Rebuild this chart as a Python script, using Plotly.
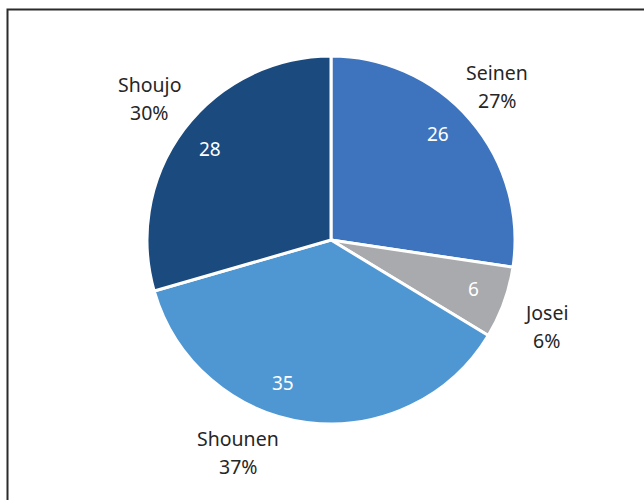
import math
import plotly.graph_objects as go

# ---- data ----
categories = ["Seinen", "Josei", "Shounen", "Shoujo"]
values = [26, 6, 35, 28]
percent_labels = ["27%", "6%", "37%", "30%"]

# ---- style ----
colors = ["#3E74BE", "#A9AAAD", "#4F97D3", "#1B4A7E"]
font_family = "Noto Sans, Open Sans, sans-serif"
W, H = 644, 500
pie_cx, pie_cy, pie_r = 331, 240, 184          # pixel geometry of the pie
in_frac = 0.82                                 # value label radius fraction
in_offsets = [-4, -1, 11, 0]                   # angle tweaks (deg) for value labels
out_offsets = [-2, 2, 16, 1]                   # angle tweaks (deg) for category labels
out_frac_each = [1.23, 1.26, 1.26, 1.25]
line_gap = 28                                  # px between name and percent lines

fig = go.Figure(
    go.Pie(
        labels=categories,
        values=values,
        sort=False,
        direction="clockwise",
        rotation=0,
        marker=dict(colors=colors, line=dict(color="white", width=3)),
        textinfo="none",
        hoverinfo="label+value+percent",
        domain=dict(
            x=[(pie_cx - pie_r) / W, (pie_cx + pie_r) / W],
            y=[(H - pie_cy - pie_r) / H, (H - pie_cy + pie_r) / H],
        ),
        showlegend=False,
    )
)

total = sum(values)
annotations = []
cum = 0
for i, (cat, v) in enumerate(zip(categories, values)):
    mid = (cum + v / 2) / total * 360
    cum += v
    # inside value label
    a = math.radians(mid + in_offsets[i])
    px = pie_cx + pie_r * in_frac * math.sin(a)
    py = pie_cy - pie_r * in_frac * math.cos(a)
    annotations.append(dict(
        x=px / W, y=1 - py / H, xref="paper", yref="paper",
        text=str(v), showarrow=False,
        font=dict(family=font_family, size=19, color="white"),
        xanchor="center", yanchor="middle",
    ))
    # outside category label (two lines)
    a = math.radians(mid + out_offsets[i])
    px = pie_cx + pie_r * out_frac_each[i] * math.sin(a)
    py = pie_cy - pie_r * out_frac_each[i] * math.cos(a)
    for txt, dy in ((cat, -line_gap / 2), (percent_labels[i], line_gap / 2)):
        annotations.append(dict(
            x=px / W, y=1 - (py + dy) / H, xref="paper", yref="paper",
            text=txt, showarrow=False,
            font=dict(family=font_family, size=19.5, color="#262626"),
            xanchor="center", yanchor="middle", align="center",
        ))

fig.update_layout(
    width=W, height=H,
    margin=dict(l=0, r=0, t=0, b=0),
    paper_bgcolor="white",
    plot_bgcolor="white",
    annotations=annotations,
    shapes=[dict(
        type="rect", xref="paper", yref="paper",
        x0=7.5 / W, x1=1.1, y0=-0.1, y1=1 - 9.5 / H,
        line=dict(color="#2b2b2b", width=2),
        fillcolor="rgba(0,0,0,0)", layer="below",
    )],
)

fig.write_html("out.html")
